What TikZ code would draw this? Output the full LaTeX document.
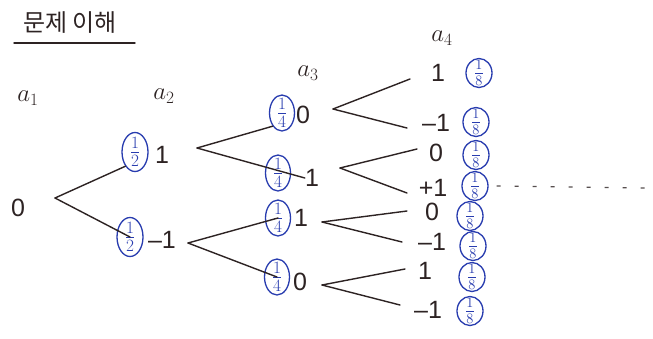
\documentclass[tikz,border=0pt]{standalone}
\usepackage{fontspec}
\setmainfont{Liberation Sans}
\newfontfamily\kor{Noto Sans CJK KR}
\usetikzlibrary{shapes.geometric}
\definecolor{ink}{RGB}{45,35,35}
\definecolor{pen}{RGB}{40,60,175}
\tikzset{
  val/.style={text=ink, font=\fontsize{25}{25}\selectfont, inner sep=0pt},
  lab/.style={text=ink, font=\fontsize{36}{36}\selectfont, inner sep=0pt},
  prob/.style={ellipse, draw=pen, text=pen, line width=1.3pt, inner xsep=0pt,
    inner ysep=-5pt, font=\fontsize{23}{23}\selectfont},
  half/.style={prob, minimum width=26pt, minimum height=39pt},
  quarter/.style={prob, minimum width=25pt, minimum height=36pt},
  eighth/.style={prob, minimum width=26pt, minimum height=29pt,
    inner ysep=-4pt, font=\fontsize{20}{20}\selectfont},
  br/.style={draw=ink, line width=1.4pt, line cap=round},
  tail/.style={draw=ink!80, line width=1.2pt, dash pattern=on 4pt off 14pt}
}
\newcommand{\fr}[1]{$\frac{1}{#1}$}
\begin{document}
\begin{tikzpicture}[x=1pt,y=-1pt]
\useasboundingbox[fill=white] (0,0) rectangle (653,338);
% title
\node[text=ink, font=\kor\fontsize{24}{24}\selectfont, inner sep=0pt] (title) at (70,23) {문제 이해};
\coordinate (ulA) at (14,43);
\coordinate (ulB) at (135,43);
\draw[br] (ulA) -- (ulB);
% column labels
\node[lab] (a1) at (28,98) {$a_{\scriptscriptstyle 1}$};
\node[lab] (a2) at (164,96) {$a_{\scriptscriptstyle 2}$};
\node[lab] (a3) at (308,73) {$a_{\scriptscriptstyle 3}$};
\node[lab] (a4) at (442,38) {$a_{\scriptscriptstyle 4}$};
% a1
\node[val] (n0) at (18,208) {0};
\coordinate (b0) at (55,198);
% a2
\node[half] (h1) at (135,152) {\fr{2}};
\node[val] (v1) at (162,155) {1};
\node[half] (h2) at (130,237) {\fr{2}};
\node[val] (v2) at (162,240) {–1};
\coordinate (b1) at (197,148);
\coordinate (b2) at (188,243);
\draw[br] (b0) -- (h1.south west);
\draw[br] (b0) -- (h2.center);
% a3
\node[quarter] (q1) at (282,113) {\fr{4}};
\node[val] (w1) at (303,115) {0};
\node[quarter] (q2) at (278,173) {\fr{4}};
\node[val] (w2) at (312,178) {1};
\node[quarter] (q3) at (278,218) {\fr{4}};
\node[val] (w3) at (301,218) {1};
\node[quarter] (q4) at (277,277) {\fr{4}};
\node[val] (w4) at (300,282) {0};
\draw[br] (b1) -- (q1.south west);
\draw[br] (b1) -- (w2.west);
\draw[br] (b2) -- (q3.center);
\draw[br] (b2) -- (q4.center);
\coordinate (c1) at (333,109);
\coordinate (c2) at (340,168);
\coordinate (c3) at (322,222);
\coordinate (c4) at (322,285);
% a4 values
\node[val] (x1) at (438,73) {1};
\node[val] (x2) at (436,123) {–1};
\node[val] (x3) at (436,153) {0};
\node[val] (x4) at (433,188) {+1};
\node[val] (x5) at (432,212) {0};
\node[val] (x6) at (432,242) {–1};
\node[val] (x7) at (425,271) {1};
\node[val] (x8) at (428,310) {–1};
% a4 probabilities
\node[eighth] (e1) at (479,73) {\fr{8}};
\node[eighth] (e2) at (476,122) {\fr{8}};
\node[eighth] (e3) at (476,155) {\fr{8}};
\node[eighth] (e4) at (475,186) {\fr{8}};
\node[eighth] (e5) at (470,216) {\fr{8}};
\node[eighth] (e6) at (473,246) {\fr{8}};
\node[eighth] (e7) at (472,277) {\fr{8}};
\node[eighth] (e8) at (470,311) {\fr{8}};
% branches a3 -> a4
\draw[br] (c1) -- (410,79) coordinate (d1);
\draw[br] (c1) -- (407,128) coordinate (d2);
\draw[br] (c2) -- (417,149) coordinate (d3);
\draw[br] (c2) -- (407,193) coordinate (d4);
\draw[br] (c3) -- (407,211) coordinate (d5);
\draw[br] (c3) -- (402,242) coordinate (d6);
\draw[br] (c4) -- (405,269) coordinate (d7);
\draw[br] (c4) -- (400,305) coordinate (d8);
% dashed tail
\coordinate (tailend) at (648,188);
\draw[tail] ([xshift=8pt]e4.east) -- (tailend);
\end{tikzpicture}
\end{document}
